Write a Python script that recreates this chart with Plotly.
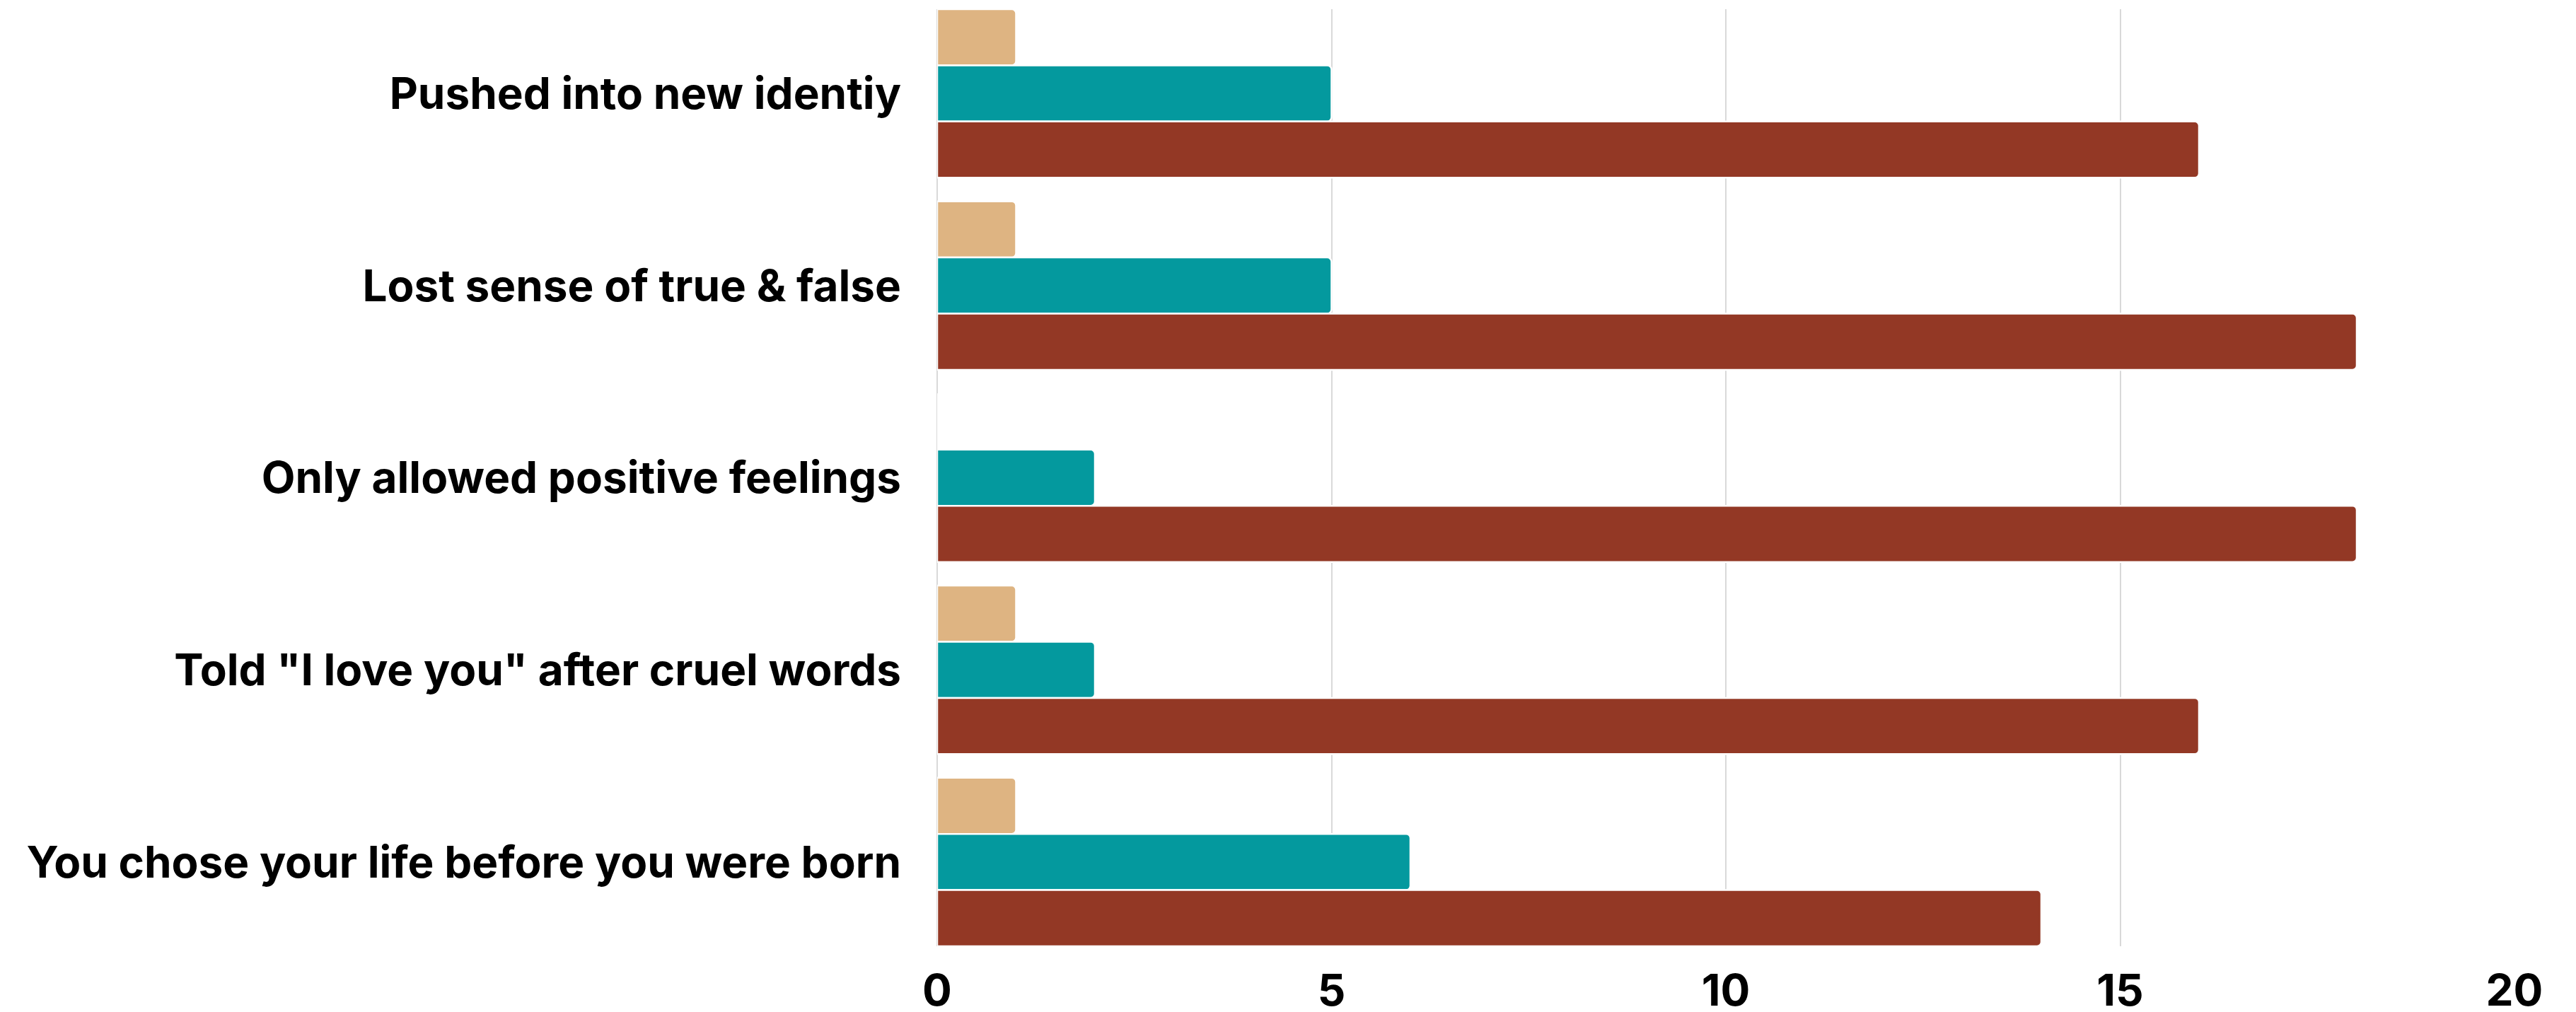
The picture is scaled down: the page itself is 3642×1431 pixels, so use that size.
import plotly.graph_objects as go

categories = [
    "Pushed into new identiy",
    "Lost sense of true & false",
    "Only allowed positive feelings",
    'Told "I love you" after cruel words',
    "You chose your life before you were born",
]
series_names = ["Series A", "Series B", "Series C"]
values_a = [1, 1, 0, 1, 1]
values_b = [5, 5, 2, 2, 6]
values_c = [16, 18, 18, 16, 14]
colors = ["#DEB482", "#04999E", "#933825"]
x_ticks = [0, 5, 10, 15, 20]

fig = go.Figure()
for name, vals, col in zip(series_names, [values_a, values_b, values_c], colors):
    fig.add_trace(go.Bar(
        y=categories, x=vals, orientation="h", name=name,
        marker=dict(color=col, line=dict(color="white", width=2.5), cornerradius=6),
    ))

bargap = 0.123
fig.update_layout(
    width=3634, height=1423,
    margin=dict(l=1317, r=87, t=5, b=93),
    paper_bgcolor="white", plot_bgcolor="white",
    barmode="group", bargap=bargap, bargroupgap=0,
    showlegend=False,
    font=dict(family="Inter", color="black"),
    xaxis=dict(
        range=[0, 20], tickvals=x_ticks, showgrid=True, gridcolor="#D9D9D9", gridwidth=2,
        zeroline=True, zerolinecolor="#D9D9D9", zerolinewidth=2,
        tickfont=dict(size=62, family="Inter", weight="bold"),
        ticks="", ticklabelstandoff=21, showline=False, automargin=False,
    ),
    yaxis=dict(
        range=[len(categories) - 0.5 - bargap / 2, -0.5 + bargap / 2],
        tickfont=dict(size=62, family="Inter", weight="bold"),
        ticks="", ticklabelstandoff=50, showgrid=False, showline=False, automargin=False,
    ),
)
fig.write_html("out.html")
